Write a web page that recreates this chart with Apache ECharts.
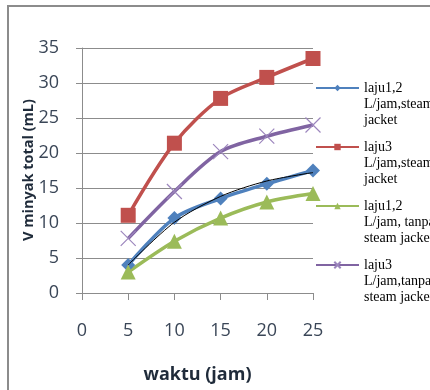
<!DOCTYPE html>
<html>
<head>
<meta charset="utf-8">
<script src="https://cdn.jsdelivr.net/npm/echarts@6/dist/echarts.min.js"></script>
<style>
  html, body { margin: 0; padding: 0; background: #fff; }
  #chart { width: 430px; height: 390px; }
</style>
</head>
<body>
<div id="chart"></div>
<script>
// time points (jam)
const waktu = [5, 10, 15, 20, 25];
// total oil volume (mL) per run
const laju12Steam = [4.0, 10.7, 13.5, 15.6, 17.5];
const laju3Steam = [11.1, 21.4, 27.8, 30.8, 33.5];
const laju12Tanpa = [3.0, 7.4, 10.7, 13.0, 14.2];
const laju3Tanpa = [7.8, 14.5, 20.2, 22.4, 24.0];
// fitted trend through the laju 1,2 steam jacket run
const trend12Steam = [4.0, 10.1, 13.8, 16.0, 17.2];

const seriesNames = [
  'laju1,2 L/jam,steam jacket',
  'laju3 L/jam,steam jacket',
  'laju1,2 L/jam, tanpa steam jacket',
  'laju3 L/jam,tanpa steam jacket'
];
// wrapped legend text, one entry per series
const legendLines = [
  ['laju1,2', 'L/jam,steam', 'jacket'],
  ['laju3', 'L/jam,steam', 'jacket'],
  ['laju1,2', 'L/jam, tanpa', 'steam jacket'],
  ['laju3', 'L/jam,tanpa', 'steam jacket']
];
const xTicks = [0, 5, 10, 15, 20, 25];
const yTicks = [0, 5, 10, 15, 20, 25, 30, 35];
const yTitle = 'V minyak total (mL)';

const pairs = arr => waktu.map((t, i) => [t, arr[i]]);
const crossPath = 'path://M0,0L10,10M10,0L0,10';
const SMOOTH = 0.3;

const chart = echarts.init(document.getElementById('chart'));
chart.setOption({
  animation: false,
  grid: { left: 82, right: 117, top: 48, bottom: 97 },
  graphic: [
    {
      type: 'rect',
      shape: { x: 8, y: 6, width: 440, height: 400 },
      style: { fill: 'none', stroke: '#8c8c8c', lineWidth: 2 },
      silent: true, z: -1
    },
    {
      // vertical axis title
      type: 'text',
      x: 29, y: 170,
      rotation: Math.PI / 2,
      style: {
        text: yTitle,
        fontFamily: 'Open Sans', fontWeight: 'bold', fontSize: 14.5,
        fill: '#1f2b3a', align: 'center', verticalAlign: 'middle'
      },
      silent: true
    }
  ],
  legend: {
    orient: 'vertical',
    left: 315,
    top: 48,
    padding: 0,
    itemWidth: 43,
    itemHeight: 8,
    itemGap: -21,
    data: seriesNames,
    // two leading blank lines keep the icon level with the first text line
    formatter: name => '\n\n' + legendLines[seriesNames.indexOf(name)].join('\n'),
    textStyle: {
      fontFamily: 'Liberation Serif',
      fontSize: 14,
      color: '#000',
      lineHeight: 16
    }
  },
  xAxis: {
    type: 'value',
    min: 0, max: 25, interval: 5,
    name: 'waktu (jam)',
    nameLocation: 'middle',
    nameGap: 73,
    nameTextStyle: { fontFamily: 'Open Sans', fontWeight: 'bold', fontSize: 18, color: '#1f2b3a' },
    axisLine: { lineStyle: { color: '#8c8c8c', width: 1 } },
    axisTick: { show: true, length: 7, lineStyle: { color: '#8c8c8c' } },
    axisLabel: {
      margin: 29, fontFamily: 'Open Sans', fontSize: 18, color: '#3a4657',
      formatter: v => xTicks.includes(v) ? String(v) : ''
    },
    splitLine: { show: false }
  },
  yAxis: {
    type: 'value',
    min: 0, max: 35, interval: 5,
    axisLine: { show: true, lineStyle: { color: '#8c8c8c', width: 1 } },
    axisTick: { show: true, length: 6, lineStyle: { color: '#8c8c8c' } },
    axisLabel: {
      margin: 23, fontFamily: 'Open Sans', fontSize: 18, color: '#3a4657',
      formatter: v => yTicks.includes(v) ? String(v) : ''
    },
    splitLine: { show: true, lineStyle: { color: '#8c8c8c', width: 1 } }
  },
  series: [
    {
      name: seriesNames[0], type: 'line', smooth: SMOOTH,
      data: pairs(laju12Steam),
      symbol: 'diamond', symbolSize: 14,
      lineStyle: { color: '#4f81bd', width: 3.5 },
      itemStyle: { color: '#4f81bd' }, z: 3
    },
    {
      name: seriesNames[1], type: 'line', smooth: SMOOTH,
      data: pairs(laju3Steam),
      symbol: 'rect', symbolSize: 15,
      lineStyle: { color: '#c0504d', width: 3.5 },
      itemStyle: { color: '#c0504d' }, z: 3
    },
    {
      name: seriesNames[2], type: 'line', smooth: SMOOTH,
      data: pairs(laju12Tanpa),
      symbol: 'triangle', symbolSize: 15,
      lineStyle: { color: '#9bbb59', width: 3.5 },
      itemStyle: { color: '#9bbb59' }, z: 3
    },
    {
      name: seriesNames[3], type: 'line', smooth: SMOOTH,
      data: pairs(laju3Tanpa),
      symbol: crossPath, symbolSize: 15,
      lineStyle: { color: '#8064a2', width: 3.5 },
      itemStyle: { color: 'none', borderColor: '#9c86bd', borderWidth: 1.2 }, z: 3
    },
    {
      name: 'trend', type: 'line', smooth: SMOOTH,
      data: pairs(trend12Steam),
      symbol: 'none',
      lineStyle: { color: '#000', width: 1 },
      z: 4, silent: true
    }
  ]
});
</script>
</body>
</html>
